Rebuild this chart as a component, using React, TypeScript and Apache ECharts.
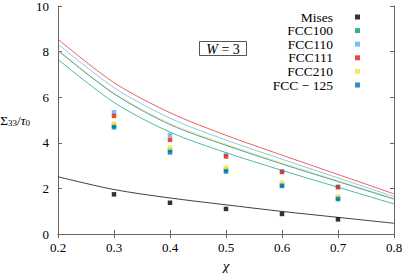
import React, { useEffect, useRef } from "react";
import * as echarts from "echarts";

const chiGrid = [0.2, 0.3, 0.4, 0.5, 0.6, 0.7, 0.8];
const chiPoints = [0.3, 0.4, 0.5, 0.6, 0.7];

const seriesNames = ["Mises", "FCC100", "FCC110", "FCC111", "FCC210", "FCC − 125"];
const colors = ["#000000", "#009e73", "#56b4e9", "#e51e10", "#f0e442", "#0072b2"];

// fitted curves (values at chiGrid)
const curveMises = [2.51, 1.95, 1.58, 1.28, 0.99, 0.73, 0.47];
const curve100 = [7.66, 5.77, 4.47, 3.57, 2.79, 2.05, 1.32];
const curve110 = [8.33, 6.42, 5.08, 4.12, 3.28, 2.46, 1.64];
const curve111 = [8.54, 6.64, 5.32, 4.33, 3.46, 2.61, 1.76];
const curve210 = [8.07, 6.18, 4.86, 3.94, 3.12, 2.34, 1.56];
const curve125 = [8.04, 6.15, 4.8, 3.89, 3.07, 2.3, 1.53];

// simulation points (values at chiPoints)
const ptsMises = [1.74, 1.37, 1.1, 0.88, 0.64];
const pts100 = [4.75, 3.68, 2.82, 2.15, 1.58];
const pts110 = [5.34, 4.34, 3.47, 2.75, 2.08];
const pts111 = [5.18, 4.13, 3.4, 2.72, 2.05];
const pts210 = [4.84, 3.79, 2.91, 2.25, 1.64];
const pts125 = [4.68, 3.58, 2.74, 2.11, 1.53];

const yTicks = [0, 2, 4, 6, 8, 10];

const curves = [curveMises, curve100, curve110, curve111, curve210, curve125];
const points = [ptsMises, pts100, pts110, pts111, pts210, pts125];

const FONT = "'Liberation Serif', 'DejaVu Serif', serif";
const AXIS_COLOR = "#666666";

export default function App() {
  const ref = useRef<HTMLDivElement>(null);
  useEffect(() => {
    if (!ref.current) return;
    const chart = echarts.init(ref.current, undefined, { renderer: "svg" });
    const lineSeries = curves.map((c, i) => ({
      type: "line",
      name: seriesNames[i] + " fit",
      data: c.map((v, j) => [chiGrid[j], v]),
      smooth: 0.3,
      showSymbol: false,
      symbol: "none",
      lineStyle: { width: 1, color: colors[i], opacity: i === 0 ? 0.75 : 0.7 },
      itemStyle: { color: colors[i] },
      z: 2,
    }));
    const scatterSeries = points.map((p, i) => ({
      type: "scatter",
      name: seriesNames[i],
      data: p.map((v, j) => [chiPoints[j], v]),
      symbol: "rect",
      symbolSize: 4.5,
      itemStyle: { color: colors[i] },
      z: 3 + i,
    }));
    const axisCommon = {
      axisLine: { lineStyle: { color: AXIS_COLOR, width: 1 } },
      axisTick: { inside: true, length: 4, lineStyle: { color: AXIS_COLOR } },
      splitLine: { show: false },
    };
    chart.setOption({
      animation: false,
      grid: { left: 58, right: 8, top: 6, bottom: 39, outerBoundsMode: "none", containLabel: false },
      xAxis: [
        {
          type: "value",
          min: 0.2,
          max: 0.8,
          interval: 0.1,
          ...axisCommon,
          axisLabel: {
            fontFamily: FONT,
            fontSize: 13,
            color: "#000",
            margin: 7,
            formatter: (v: number) => v.toFixed(1),
          },
          name: "χ",
          nameLocation: "middle",
          nameGap: 24,
          nameTextStyle: { fontFamily: FONT, fontSize: 15, fontStyle: "italic", color: "#000" },
        },
        {
          type: "value",
          position: "top",
          min: 0.2,
          max: 0.8,
          interval: 0.1,
          ...axisCommon,
          axisLabel: { show: false },
        },
      ],
      yAxis: [
        {
          type: "value",
          min: yTicks[0],
          max: yTicks[yTicks.length - 1],
          interval: 2,
          ...axisCommon,
          axisLabel: { fontFamily: FONT, fontSize: 13, color: "#000", margin: 9 },
          name: "{r|Σ}{s|33}{r|/}{i|τ}{s|0}",
          nameLocation: "middle",
          nameRotate: 0,
          nameGap: 22,
          nameTextStyle: {
            fontFamily: FONT,
            color: "#000",
            rich: {
              r: { fontFamily: FONT, fontSize: 13.5, color: "#000" },
              i: { fontFamily: FONT, fontSize: 13.5, fontStyle: "italic", color: "#000" },
              s: { fontFamily: FONT, fontSize: 9, color: "#000", padding: [6, 0, 0, 0] },
            },
          },
        },
        {
          type: "value",
          position: "right",
          min: yTicks[0],
          max: yTicks[yTicks.length - 1],
          interval: 2,
          ...axisCommon,
          axisLabel: { show: false },
        },
      ],
      legend: {
        data: seriesNames,
        orient: "vertical",
        align: "right",
        right: 37,
        top: 5,
        itemWidth: 5,
        itemHeight: 5,
        itemGap: -0.4,
        icon: "rect",
        selectedMode: false,
        textStyle: {
          fontFamily: FONT,
          fontSize: 13.5,
          lineHeight: 12,
          height: 12,
          color: "#000",
          padding: [0, 17, 0, 0],
        },
      },
      graphic: [
        {
          type: "group",
          left: 199,
          top: 41,
          children: [
            {
              type: "rect",
              shape: { x: 0, y: 0, width: 47, height: 14 },
              style: { fill: "#fff", stroke: "#555", lineWidth: 1 },
            },
            {
              type: "text",
              x: 23.5,
              y: 7.5,
              style: {
                text: "{i|W} = 3",
                align: "center",
                verticalAlign: "middle",
                fontFamily: FONT,
                fontSize: 14,
                fill: "#000",
                rich: { i: { fontFamily: FONT, fontSize: 14, fontStyle: "italic", fill: "#000" } },
              },
            },
          ],
        },
      ],
      series: [...lineSeries, ...scatterSeries],
    });
    return () => chart.dispose();
  }, []);
  return <div ref={ref} style={{ width: 402, height: 273, position: "absolute", left: 0, top: 0 }} />;
}
